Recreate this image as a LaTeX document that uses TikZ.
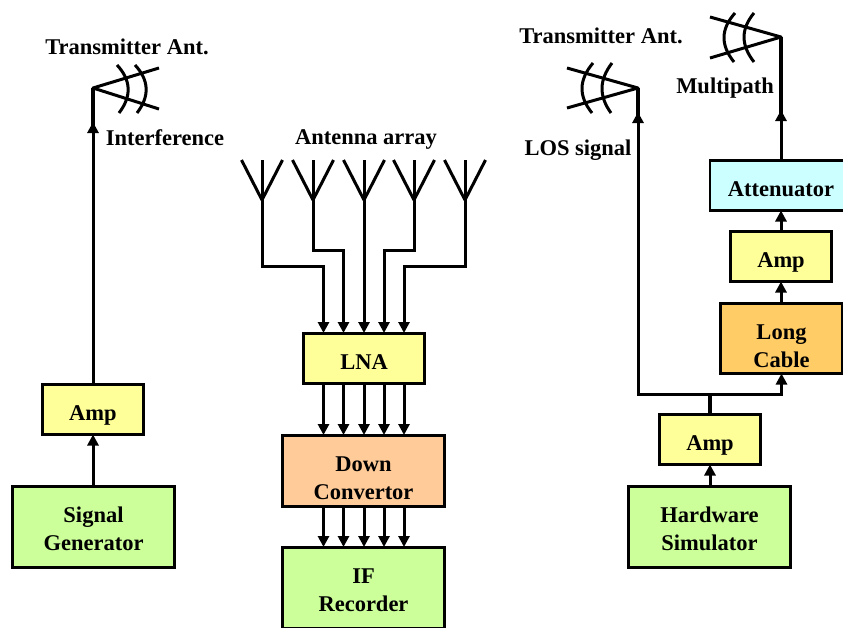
\documentclass[tikz,border=0pt]{standalone}
\usepackage{fontspec}
\setmainfont{Liberation Serif}
\usetikzlibrary{arrows.meta}
\definecolor{cyel}{HTML}{FFFF99}
\definecolor{cgrn}{HTML}{CCFF99}
\definecolor{cpch}{HTML}{FFCC99}
\definecolor{corg}{HTML}{FFCC66}
\definecolor{ccyn}{HTML}{CCFFFF}
\tikzset{
  every node/.style={font=\fontsize{22.5}{28}\selectfont\bfseries},
  blockbox/.style={draw=black,line width=2.7pt,align=center,inner sep=0pt,outer sep=0pt,text depth=0pt,text height=21pt},
  amp/.style={blockbox,fill=cyel,minimum width=101pt,minimum height=50pt},
  wide/.style={blockbox,minimum width=162pt},
  lbl/.style={inner sep=0pt},
  wire/.style={line width=3.2pt},
  conn/.style={line width=3pt,-{Triangle[width=11pt,length=11pt]}},
  ant/.style={line width=3pt,line join=round}
}
\begin{document}
\begin{tikzpicture}[x=1pt,y=-1pt]
\useasboundingbox[fill=white] (0,0) rectangle (843,627);
% boxes, left
\node[amp] (ampL) at (93,409.5) {Amp};
\node[wide,fill=cgrn,minimum height=81pt,text height=46pt] (sig) at (93.5,527) {Signal\\Generator};
% centre
\node[blockbox,fill=cyel,minimum width=121pt,minimum height=50pt] (lna) at (364,358.5) {LNA};
\node[wide,fill=cpch,minimum height=71pt,text height=56pt] (down) at (363.5,471) {Down\\Convertor};
\node[wide,fill=cgrn,minimum height=81pt,text height=46pt] (ifr) at (363.5,588) {IF\\Recorder};
% right
\node[blockbox,fill=ccyn,minimum width=142pt,minimum height=50pt] (att) at (781,185.5) {Attenuator};
\node[amp] (ampA) at (781,256.5) {Amp};
\node[blockbox,fill=corg,minimum width=122pt,minimum height=70pt,text height=57pt] (cable) at (781.5,338.5) {Long\\Cable};
\node[amp] (ampR) at (710,439.5) {Amp};
\node[wide,fill=cgrn,minimum height=81pt,text height=46pt] (hw) at (709.5,527) {Hardware\\Simulator};
% labels
\node[lbl] (t1) at (127,47) {Transmitter Ant.};
\node[lbl] (t2) at (165,138) {Interference};
\node[lbl] (t3) at (366,139) {Antenna array};
\node[lbl] (t4) at (601,36) {Transmitter Ant.};
\node[lbl] (t5) at (725,88) {Multipath};
\node[lbl] (t6) at (578,150) {LOS signal};
% left transmitter
\coordinate (apL) at (93,88);
\coordinate (apLa) at (93,122);
\coordinate (apLb) at (93,128);
\draw[conn] (ampL.north -| apL) -- (apLa);
\draw[wire] (apLb) -- (apL);
\draw[conn] (sig.north -| apL) -- (ampL.south -| apL);
\draw[ant] (159,68) -- (apL) -- (159,109);
\draw[ant] (117,65) .. controls (131,80) and (132,96) .. (119,113);
\draw[ant] (135,65) .. controls (149,80) and (150,96) .. (137,113);
% right transmitter 1
\coordinate (apR) at (638,88);
\coordinate (apRa) at (638,112);
\coordinate (apRb) at (638,118);
\coordinate (jn) at (710,394);
\draw[ant] (567,68) -- (apR) -- (567,108);
\draw[ant] (593,63) .. controls (578.7,80) and (578.3,96) .. (592,113);
\draw[ant] (612,63) .. controls (599,80) and (598.7,96) .. (611,113);
\draw[wire] (apRb) -- (apR);
\draw[wire] (ampR.north) -- (jn);
\draw[conn] (jn) -| (apRa);
\draw[conn] (jn) -| (cable.south);
\draw[conn] (hw.north -| ampR) -- (ampR.south);
% right transmitter 2
\coordinate (apM) at (781,37);
\coordinate (apMa) at (781,110);
\coordinate (apMb) at (781,116);
\draw[ant] (710,17) -- (apM) -- (710,58);
\draw[ant] (735,13) .. controls (720.7,29) and (720.3,45) .. (734,62);
\draw[ant] (754,13) .. controls (740.7,29) and (740.7,45) .. (754,62);
\draw[wire] (apMb) -- (apM);
\draw[conn] (att.north -| apM) -- (apMa);
\draw[conn] (ampA.north) -- (att.south -| ampA);
\draw[conn] (cable.north -| ampA) -- (ampA.south);
% antenna array
\foreach \n/\x in {a/262,b/313,c/364,d/414,e/465}{
  \coordinate (\n) at (\x,200);
  \draw[ant] (\x-20.5,160) -- (\n) -- (\x+20.5,160);
  \draw[ant] (\x,160) -- (\n);
}
\coordinate (ia) at (323.5,333);
\coordinate (ib) at (343.5,333);
\coordinate (ic) at (364,333);
\coordinate (id) at (384,333);
\coordinate (ie) at (404,333);
\draw[conn] (a) |- (323.5,266) -- (ia);
\draw[conn] (b) |- (343.5,250) -- (ib);
\draw[conn] (c) -- (ic);
\draw[conn] (d) |- (384,250) -- (id);
\draw[conn] (e) |- (404,266) -- (ie);
\foreach \x in {323.5,343.5,364,384,404}{
  \draw[conn] (\x,384) -- (\x,435);
  \draw[conn] (\x,507) -- (\x,547);
}
\end{tikzpicture}
\end{document}
